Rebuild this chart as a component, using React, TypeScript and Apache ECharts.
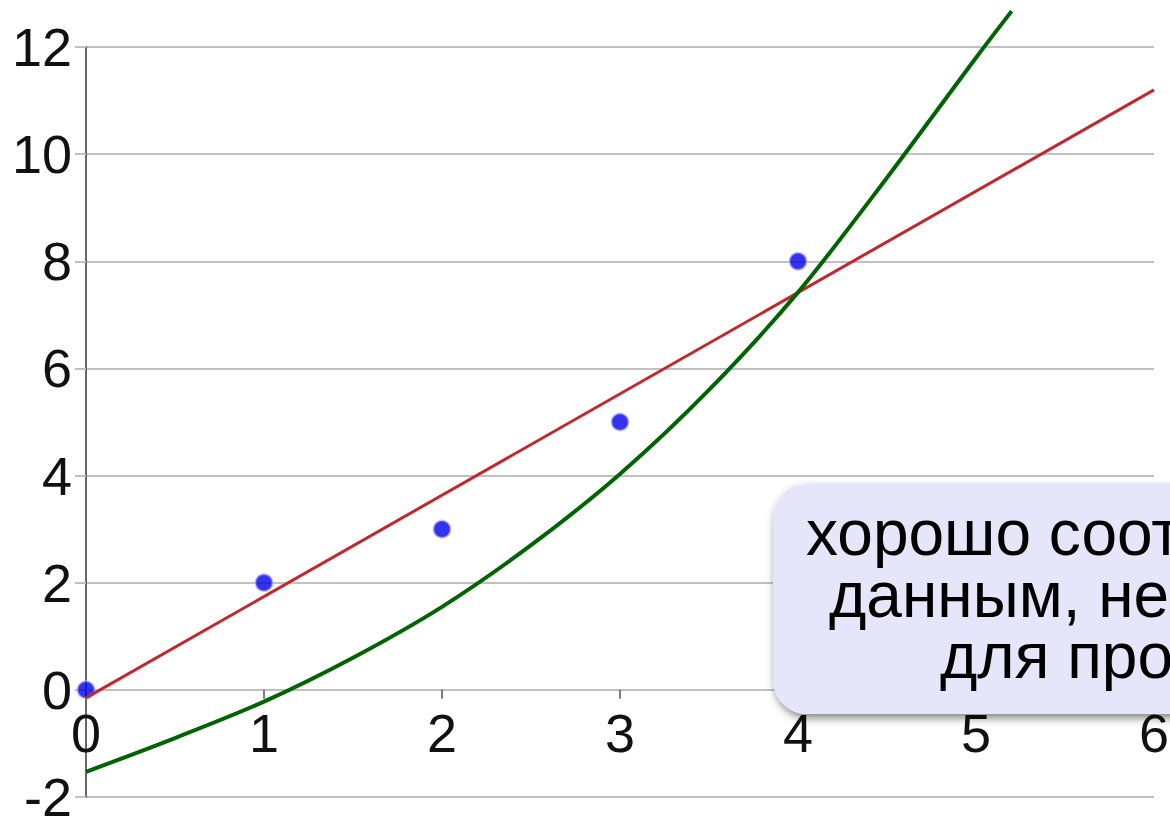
import React, { useEffect, useRef } from "react";
import * as echarts from "echarts";

// Observed data points
const pointsX = [0, 1, 2, 3, 4];
const pointsY = [0, 2, 3, 5, 8];

// Linear trend line (read at its ends)
const trendX = [0, 6];
const trendY = [-0.15, 11.2];

// Steep curve
const curveX = [0, 0.5, 1, 1.5, 2, 2.5, 3, 3.5, 4, 4.5, 5, 5.2];
const curveY = [-1.53, -0.9, -0.22, 0.6, 1.55, 2.7, 4.03, 5.6, 7.42, 9.56, 11.8, 12.67];

// Axis settings
const xMin = 0, xMax = 6, xStep = 1;
const yMin = -2, yMax = 12, yStep = 2;

// Callout text (visible part)
const calloutLines = ["хорошо соот", "данным, не", "для про"];

const FONT = "'Liberation Sans', Arial, sans-serif";

export default function App() {
  const ref = useRef<HTMLDivElement>(null);

  useEffect(() => {
    if (!ref.current) return;
    const chart = echarts.init(ref.current, null, { renderer: "svg" });

    const gridTop = 47;
    const gridBottom = 19;
    const plotH = 816 - gridTop - gridBottom;
    // distance of the value 0 above the plot's bottom edge
    const zeroOffset = (plotH * (0 - yMin)) / (yMax - yMin);

    const lineStarts = [806, 829, 940];
    const baselines = [555, 617, 678];
    const fs = 64;

    chart.setOption({
      animation: false,
      backgroundColor: "#ffffff",
      grid: {
        left: 86,
        right: 16,
        top: gridTop,
        bottom: gridBottom,
        containLabel: false,
        outerBoundsMode: "none",
      },
      xAxis: {
        type: "value",
        min: xMin,
        max: xMax,
        interval: xStep,
        offset: -zeroOffset,
        axisLine: { show: true, onZero: false, lineStyle: { color: "#c0c0c0", width: 2 } },
        axisTick: { show: true, length: 9, lineStyle: { color: "#555", width: 1.5 } },
        splitLine: { show: false },
        axisLabel: { color: "#111", fontSize: 54, fontFamily: FONT, margin: 16 },
      },
      yAxis: {
        type: "value",
        min: yMin,
        max: yMax,
        interval: yStep,
        axisLine: { show: true, onZero: false, lineStyle: { color: "#333", width: 1.5 } },
        axisTick: { show: true, length: 11, lineStyle: { color: "#c0c0c0", width: 2 } },
        splitLine: { show: true, lineStyle: { color: "#c0c0c0", width: 2 } },
        axisLabel: { color: "#111", fontSize: 54, fontFamily: FONT, margin: 14 },
      },
      series: [
        {
          type: "scatter",
          data: pointsX.map((x, i) => [x, pointsY[i]]),
          symbolSize: 17,
          itemStyle: { color: "#0000e8", borderColor: "rgba(170,170,255,0.7)", borderWidth: 2 },
          z: 2,
        },
        {
          type: "line",
          data: trendX.map((x, i) => [x, trendY[i]]),
          showSymbol: false,
          lineStyle: { color: "#c4262e", width: 3 },
          z: 3,
        },
        {
          type: "line",
          data: curveX.map((x, i) => [x, curveY[i]]),
          showSymbol: false,
          smooth: 0.3,
          clip: false,
          lineStyle: { color: "#006400", width: 4 },
          z: 4,
        },
      ],
      graphic: [
        {
          type: "rect",
          z: 100,
          shape: { x: 773, y: 484, width: 700, height: 230, r: 34 },
          style: {
            fill: "#e6e6fa",
            shadowBlur: 8,
            shadowOffsetX: 2,
            shadowOffsetY: 4,
            shadowColor: "rgba(0,0,0,0.5)",
          },
        },
        ...calloutLines.map((t, i) => ({
          type: "text",
          z: 101,
          x: lineStarts[i],
          y: baselines[i] - fs * 0.35,
          style: {
            text: t,
            fill: "#000",
            font: `${fs}px ${FONT}`,
            lineHeight: 54,
            align: "left",
            verticalAlign: "middle",
          },
        })),
      ],
    });

    return () => chart.dispose();
  }, []);

  return (
    <div
      ref={ref}
      style={{ position: "absolute", left: 0, top: 0, width: 1170, height: 816 }}
    />
  );
}
